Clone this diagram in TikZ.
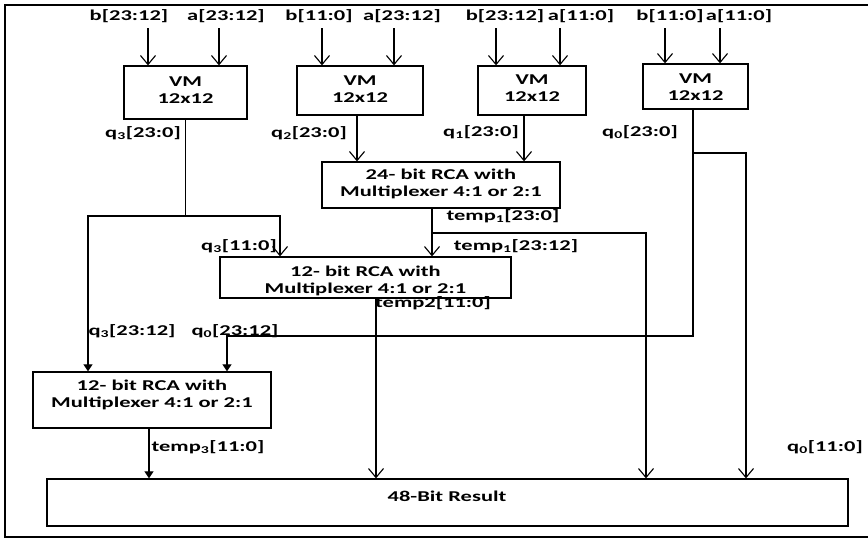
\documentclass[tikz,border=0pt]{standalone}
\usepackage{fontspec}
\setmainfont{Carlito}[FakeStretch=1.5]
\usetikzlibrary{arrows.meta}
\newcommand\lowix[1]{\textsubscript{#1}}
\begin{document}
\begin{tikzpicture}[x=1pt,y=-1pt,line width=1.1pt,
  box/.style={draw,line width=1.3pt,inner sep=0pt},
  txt/.style={font=\bfseries\fontsize{15}{17}\selectfont,inner sep=0pt,align=center},
  open/.style={-{Straight Barb[length=9pt,width=15pt,line width=1.1pt]}},
  tri/.style={-{Triangle[length=7pt,width=9pt]}}]
\useasboundingbox (0,0) rectangle (868,539);
% outer frame
\draw[line width=1.3pt] (880,5) -- (5,5) -- (5,537) -- (880,537);

% input labels
\node[txt] (b1) at (129,16) {b[23:12]};
\node[txt] (a1) at (226,16) {a[23:12]};
\node[txt] (b2) at (319,16) {b[11:0]};
\node[txt] (a2) at (402,16) {a[23:12]};
\node[txt] (b3) at (505,16) {b[23:12]};
\node[txt] (a3) at (581,16) {a[11:0]};
\node[txt] (b4) at (670,16) {b[11:0]};
\node[txt] (a4) at (739,16) {a[11:0]};

% vedic multipliers
\node[box,minimum width=123pt,minimum height=53pt] (vm1) at (185.5,92.5) {};
\node[box,minimum width=126pt,minimum height=49pt] (vm2) at (360,90.5) {};
\node[box,minimum width=108pt,minimum height=49pt] (vm3) at (532,90.5) {};
\node[box,minimum width=105pt,minimum height=45pt] (vm4) at (695.5,86.5) {};
\node[txt] (vm1t) at (185.5,90.5) {VM\\12x12};
\node[txt] (vm2t) at (360,89) {VM\\12x12};
\node[txt] (vm3t) at (532,88) {VM\\12x12};
\node[txt] (vm4t) at (695.5,87) {VM\\12x12};

% adders
\node[box,minimum width=238pt,minimum height=46pt] (rca1) at (441,185) {};
\node[txt] (rca1t) at (441,184) {24- bit RCA with\\Multiplexer 4:1 or 2:1};
\node[box,minimum width=291pt,minimum height=41pt] (rca2) at (365.5,277.5) {};
\node[txt] (rca2t) at (365.5,281) {12- bit RCA with\\Multiplexer 4:1 or 2:1};
\node[box,minimum width=238pt,minimum height=56pt] (rca3) at (152,400) {};
\node[txt] (rca3t) at (152,395) {12- bit RCA with\\Multiplexer 4:1 or 2:1};

% result
\node[box,minimum width=801pt,minimum height=47pt] (res) at (447.5,502.5) {};
\node[txt] (rest) at (447,496) {48-Bit Result};

% signal labels
\node[txt] (lq3) at (143,133) {q\lowix{3}[23:0]};
\node[txt] (lq2) at (309,133) {q\lowix{2}[23:0]};
\node[txt] (lq1) at (481,132) {q\lowix{1}[23:0]};
\node[txt] (lq0) at (640,132) {q\lowix{0}[23:0]};
\node[txt] (lt1) at (503,216) {temp\lowix{1}[23:0]};
\node[txt] (lt1h) at (516,246) {temp\lowix{1}[23:12]};
\node[txt] (lq3l) at (239,246) {q\lowix{3}[11:0]};
\node[txt] (lt2) at (433,303) {temp2[11:0]};
\node[txt] (lq3h) at (132,331) {q\lowix{3}[23:12]};
\node[txt] (lq0h) at (235,331) {q\lowix{0}[23:12]};
\node[txt] (lt3) at (208,447) {temp\lowix{3}[11:0]};
\node[txt] (lq0l) at (825,447) {q\lowix{0}[11:0]};

% inputs into the multipliers
\foreach \x/\m in {148/vm1,219/vm1,322/vm2,394/vm2,496/vm3,560/vm3,665/vm4,720/vm4}
  \draw[open] (\x,28) -- (\x,28 |- \m.north);

% q3 split
\coordinate (j1) at (185.5,216);
\coordinate (j1l) at (88,216);
\coordinate (j1r) at (280,216);
\draw (vm1.south) -- (j1);
\draw[tri] (j1) -- (j1l) -- (j1l |- rca3.north);
\draw[open] (j1) -- (j1r) -- (j1r |- rca2.north);

% q2, q1 into the 24-bit adder
\draw[open] ([xshift=-3pt]vm2.south) -- ([xshift=-3pt]vm2.south |- rca1.north);
\draw[open] ([xshift=-8pt]vm3.south) -- ([xshift=-8pt]vm3.south |- rca1.north);

% q0 routing
\coordinate (q0top) at ([xshift=-2.5pt]vm4.south);
\coordinate (q0turn) at (693,336);
\coordinate (q0l) at (227,336);
\coordinate (q0split) at (693,153);
\coordinate (q0r) at (746,153);
\draw[tri] (q0top) -- (q0turn) -- (q0l) -- (q0l |- rca3.north);
\draw[open] (q0split) -- (q0r) -- (q0r |- res.north);

% temp1 routing
\coordinate (t1) at ([xshift=-9pt]rca1.south);
\coordinate (t1b) at (432,233);
\coordinate (t1c) at (646,233);
\draw[open] (t1) -- (t1 |- rca2.north);
\draw[open] (t1b) -- (t1c) -- (t1c |- res.north);

% adder outputs into the result
\draw[open] ([xshift=10.5pt]rca2.south) -- ([xshift=10.5pt]rca2.south |- res.north);
\draw[tri] ([xshift=-3pt]rca3.south) -- ([xshift=-3pt]rca3.south |- res.north);
\end{tikzpicture}
\end{document}
